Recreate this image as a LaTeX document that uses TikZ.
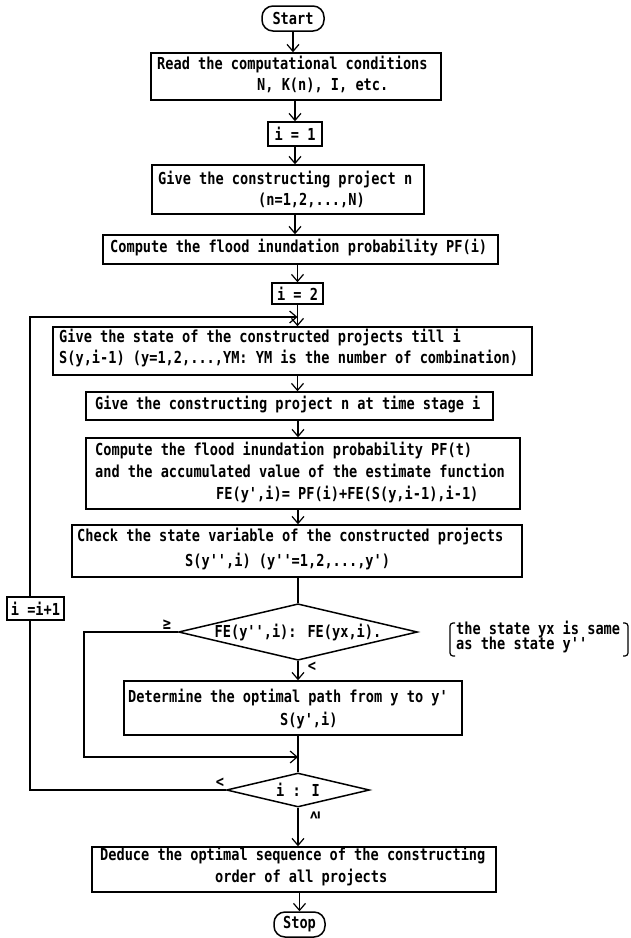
\documentclass[tikz,border=0pt]{standalone}
\usepackage{fontspec}
\newfontfamily\flowfam[FakeStretch=0.825]{DejaVu Sans Mono}
\newcommand\flowfont{\flowfam\bfseries\fontsize{16.5}{21}\selectfont}
\usetikzlibrary{arrows.meta,shapes.geometric}
\begin{document}
\begin{tikzpicture}[x=1pt,y=-1pt,
  box/.style={draw, line width=1.5pt, inner sep=0, fill=white, font=\flowfont},
  term/.style={draw, line width=1.5pt, rounded corners=11pt, inner sep=0, font=\flowfont},
  txt/.style={inner sep=0, anchor=mid west, font=\flowfont},
  dec/.style={draw, diamond, line width=1.5pt, inner sep=0, aspect=4.2, font=\flowfont},
  arr/.style={-{Straight Barb[length=7pt,width=12pt]}, line width=1.2pt},
  conn/.style={line width=1.2pt},
  lbl/.style={inner sep=0, font=\flowfont}]
\useasboundingbox (0,0) rectangle (630,938);

% junction and corner points of the loops
\coordinate (j1) at (297.5,317);
\coordinate (fbB) at (30,317);
\coordinate (j2) at (298,757);
\coordinate (fbD) at (84,757);

% terminals and boxes
\node[term, minimum width=62, minimum height=25] (start) at (293,18.5) {Start};

\node[box, minimum width=290, minimum height=47] (b1) at (296,76.5) {};
\node[txt] (b1a) at (157,67) {Read the computational conditions};
\node[txt] (b1b) at (257,88) {N, K(n), I, etc.};

\node[box, minimum width=54, minimum height=24] (i1) at (295,134) {i = 1};

\node[box, minimum width=272, minimum height=49] (b2) at (288,189.5) {};
\node[txt] (b2a) at (158,182) {Give the constructing project n};
\node[txt] (b2b) at (258,203) {(n=1,2,...,N)};

\node[box, minimum width=395, minimum height=29] (b3) at (300.5,249.5) {};
\node[txt] (b3a) at (110,250) {Compute the flood inundation probability PF(i)};

\node[box, minimum width=51, minimum height=21] (i2) at (297.5,293.5) {i = 2};

\node[box, minimum width=479, minimum height=48] (b4) at (292.5,351) {};
\node[txt] (b4a) at (59,340) {Give the state of the constructed projects till i};
\node[txt] (b4b) at (59,361) {S(y,i-1) (y=1,2,...,YM: YM is the number of combination)};

\node[box, minimum width=407, minimum height=28] (b5) at (289.5,406) {};
\node[txt] (b5a) at (95,407) {Give the constructing project n at time stage i};

\node[box, minimum width=434, minimum height=71] (b6) at (303,473.5) {};
\node[txt] (b6a) at (95,453) {Compute the flood inundation probability PF(t)};
\node[txt] (b6b) at (95,475) {and the accumulated value of the estimate function};
\node[txt] (b6c) at (216,497) {FE(y',i)= PF(i)+FE(S(y,i-1),i-1)};

\node[box, minimum width=450, minimum height=52] (b7) at (297,551) {};
\node[txt] (b7a) at (77,539) {Check the state variable of the constructed projects};
\node[txt] (b7b) at (185,564) {S(y'',i) (y''=1,2,...,y')};

\node[dec, minimum width=239, minimum height=56] (d1) at (298,632) {FE(y'',i): FE(yx,i).};

\node[box, minimum width=338, minimum height=54] (b8) at (293,708) {};
\node[txt] (b8a) at (128,700) {Determine the optimal path from y to y'};
\node[txt] (b8b) at (280,723) {S(y',i)};

\node[dec, minimum width=143, minimum height=34] (d2) at (298,790) {i : I};

\node[box, minimum width=404, minimum height=45] (b9) at (294,869.5) {};
\node[txt] (b9a) at (100,858) {Deduce the optimal sequence of the constructing};
\node[txt] (b9b) at (215,880) {order of all projects};

\node[term, minimum width=51, minimum height=25] (stop) at (299.5,924.5) {Stop};

% main flow
\draw[arr] (start.south) -- (start.south |- b1.north);
\draw[arr] (b1.south -| i1.north) -- (i1.north);
\draw[arr] (i1.south) -- (i1.south |- b2.north);
\draw[arr] (b2.south -| i1.south) -- (i1.south |- b3.north);
\draw[arr] (b3.south -| i2.north) -- (i2.north);
\draw[arr] (i2.south) -- (i2.south |- b4.north);
\draw[arr] (b4.south -| i2.south) -- (i2.south |- b5.north);
\draw[arr] (b5.south -| d1.north) -- (d1.north |- b6.north);
\draw[arr] (b6.south -| d1.north) -- (d1.north |- b7.north);
\draw[conn] (b7.south -| d1.north) -- (d1.north);
\draw[arr] (d1.south) -- (d1.south |- b8.north);
\draw[conn] (b8.south -| d2.north) -- (d2.north);
\draw[arr] (d2.south) -- (d2.south |- b9.north);
\draw[arr] (b9.south -| stop.north) -- (stop.north);

% loops
\draw[arr] (d1.west) -| (fbD) -- (j2);
\draw[arr] (d2.west) -| (fbB) -- (j1);
\node[box, minimum width=57, minimum height=23] (inc) at (35.5,608.5) {i =i+1};

% branch labels
\node[lbl] (ge1) at (167,625) {≥};
\node[lbl] (lt1) at (312,667) {<};
\node[lbl] (lt2) at (220,783) {<};
\node[lbl, rotate=90] (ge2) at (315,815) {≥};

% note
\node[txt] (n1) at (456,632) {the state yx is same};
\node[txt] (n2) at (456,647) {as the state y''};
\draw[conn, rounded corners=3pt] (455,623) -- (450,623) -- (450,656) -- (455,656);
\draw[conn, rounded corners=3pt] (623,623) -- (628,623) -- (628,656) -- (623,656);
\end{tikzpicture}
\end{document}
